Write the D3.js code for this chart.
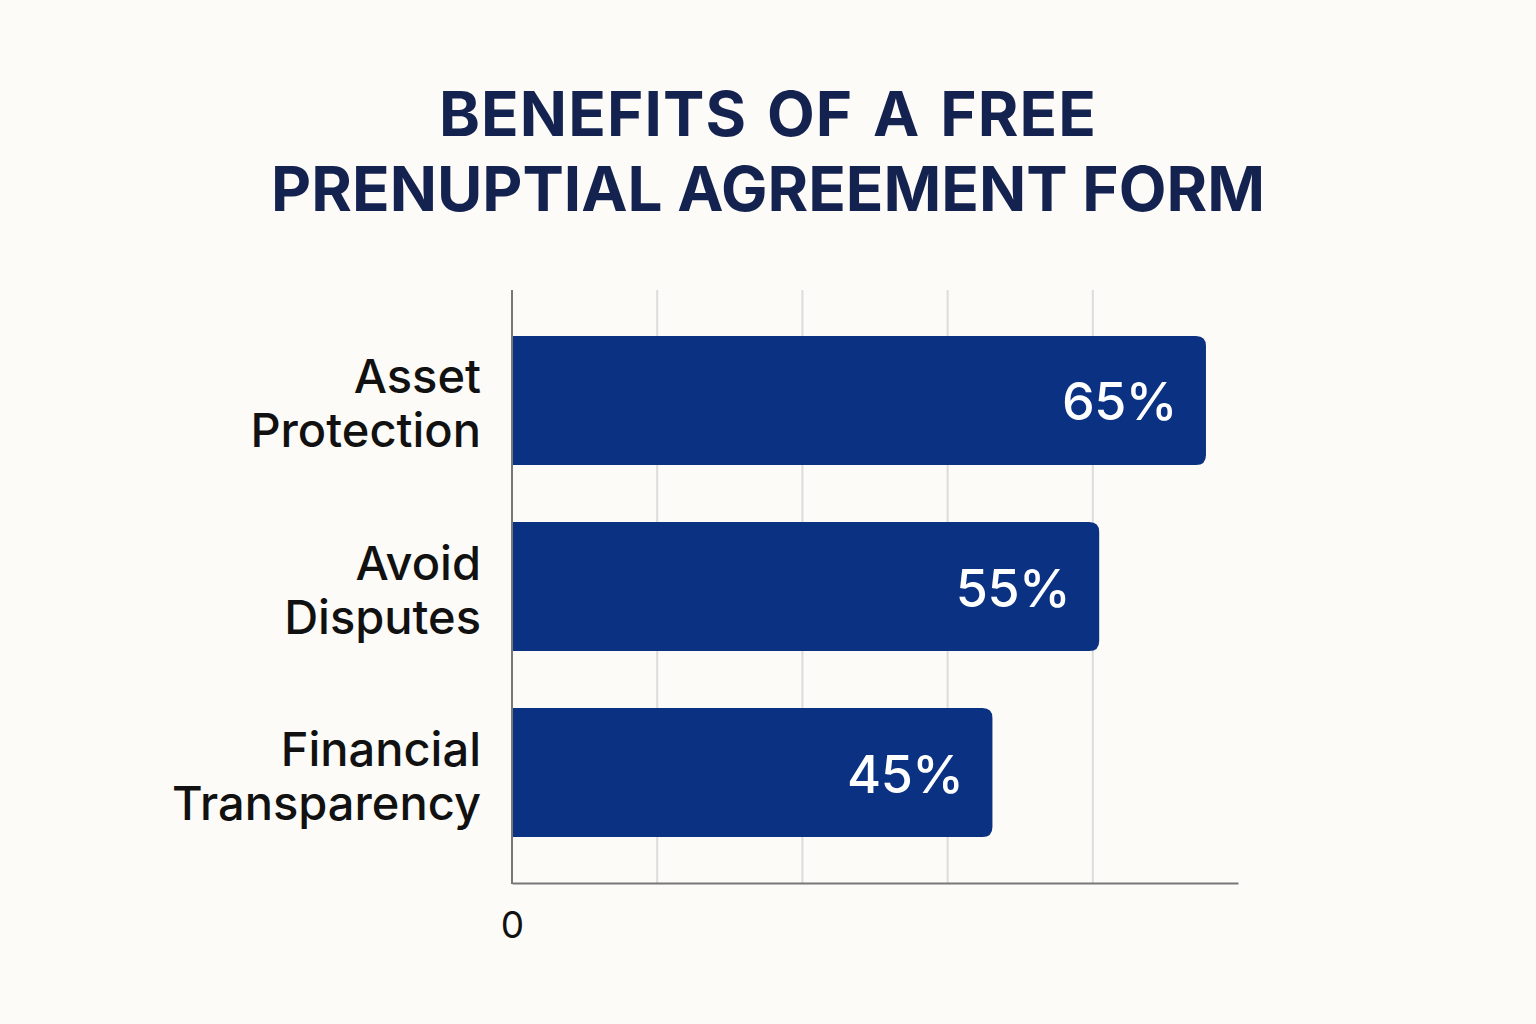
<!DOCTYPE html>
<html>
<head>
<meta charset="utf-8">
<script src="https://cdn.jsdelivr.net/npm/d3@7"></script>
<style>
  html, body { margin: 0; padding: 0; background: #fcfbf7; }
  svg { display: block; }
</style>
</head>
<body>
<svg id="chart" width="1536" height="1024"></svg>
<script>
// ---- data ----
const titleLines = ["BENEFITS OF A FREE", "PRENUPTIAL AGREEMENT FORM"];
const categories = ["Asset Protection", "Avoid Disputes", "Financial Transparency"];
const categoryLines = [["Asset", "Protection"], ["Avoid", "Disputes"], ["Financial", "Transparency"]];
const values = [65, 55, 45];
const valueLabels = ["65%", "55%", "45%"];
const tickValues = [0];
const tickLabels = ["0"];
const xMax = 68;
const gridFractions = [0.2, 0.4, 0.6, 0.8, 1.0];

// ---- layout ----
const svg = d3.select("#chart");
const W = 1536, H = 1024;
const plot = { left: 512, right: 1238, top: 290, bottom: 883 };

svg.append("rect").attr("width", W).attr("height", H).attr("fill", "#fcfbf7");

// title
svg.append("g").selectAll("text")
  .data(titleLines)
  .join("text")
  .attr("x", 768)
  .attr("y", (d, i) => 136 + i * 75)
  .attr("text-anchor", "middle")
  .attr("font-family", "Inter, 'Noto Sans', sans-serif")
  .attr("font-weight", 700)
  .attr("font-size", 62)
  .attr("word-spacing", (d, i) => i === 0 ? 4 : 0)
  .attr("letter-spacing", (d, i) => i === 0 ? 1.1 : 0)
  .attr("fill", "#14224f")
  .text(d => d);

const x = d3.scaleLinear().domain([0, xMax]).range([plot.left, plot.right]);
const y = d3.scaleBand().domain(categories).range([336, 837]).paddingInner(0.3065).paddingOuter(0);

// gridlines
svg.append("g").selectAll("line")
  .data(gridFractions.slice(0, -1).map(f => f * xMax))
  .join("line")
  .attr("x1", d => x(d)).attr("x2", d => x(d))
  .attr("y1", plot.top).attr("y2", plot.bottom)
  .attr("stroke", "#dcdcdc").attr("stroke-width", 2);

// bars (rounded right corners)
const r = 10;
const bars = svg.append("g");
bars.selectAll("path")
  .data(values)
  .join("path")
  .attr("d", (v, i) => {
    const x0 = x(0) + 1, x1 = x(v), y0 = y(categories[i]), h = y.bandwidth();
    return `M${x0},${y0} H${x1 - r} Q${x1},${y0} ${x1},${y0 + r} V${y0 + h - r} Q${x1},${y0 + h} ${x1 - r},${y0 + h} H${x0} Z`;
  })
  .attr("fill", "#0a3182");

// value labels
svg.append("g").selectAll("text")
  .data(values)
  .join("text")
  .attr("x", v => x(v) - 29)
  .attr("y", (v, i) => y(categories[i]) + y.bandwidth() / 2 + 20)
  .attr("text-anchor", "end")
  .attr("font-family", "Inter, 'Noto Sans', sans-serif")
  .attr("font-weight", 500)
  .attr("font-size", 52)
  .attr("letter-spacing", -0.5)
  .attr("fill", "#ffffff")
  .text((v, i) => valueLabels[i]);

// axes lines
const xAxis = d3.axisBottom(x).tickValues(tickValues).tickFormat((d, i) => tickLabels[i]).tickSize(0).tickPadding(29);
const gx = svg.append("g").attr("transform", `translate(0,${plot.bottom})`).call(xAxis);
gx.select(".domain").attr("stroke", "#777").attr("stroke-width", 2);
gx.selectAll("text")
  .attr("font-family", "Inter, 'Noto Sans', sans-serif")
  .attr("font-size", 37)
  .attr("fill", "#111");

svg.append("line")
  .attr("x1", plot.left).attr("x2", plot.left)
  .attr("y1", plot.top).attr("y2", plot.bottom + 1)
  .attr("stroke", "#777").attr("stroke-width", 2);

// category labels
const labelG = svg.append("g");
categories.forEach((c, i) => {
  const cy = y(c) + y.bandwidth() / 2;
  labelG.append("text")
    .attr("text-anchor", "end")
    .attr("font-family", "Inter, 'Noto Sans', sans-serif")
    .attr("font-size", 47)
    .attr("font-weight", 500)
    .attr("fill", "#111")
    .selectAll("tspan")
    .data(categoryLines[i])
    .join("tspan")
    .attr("x", 481)
    .attr("y", (d, j) => cy - 7 + j * 54)
    .text(d => d);
});
</script>
</body>
</html>
